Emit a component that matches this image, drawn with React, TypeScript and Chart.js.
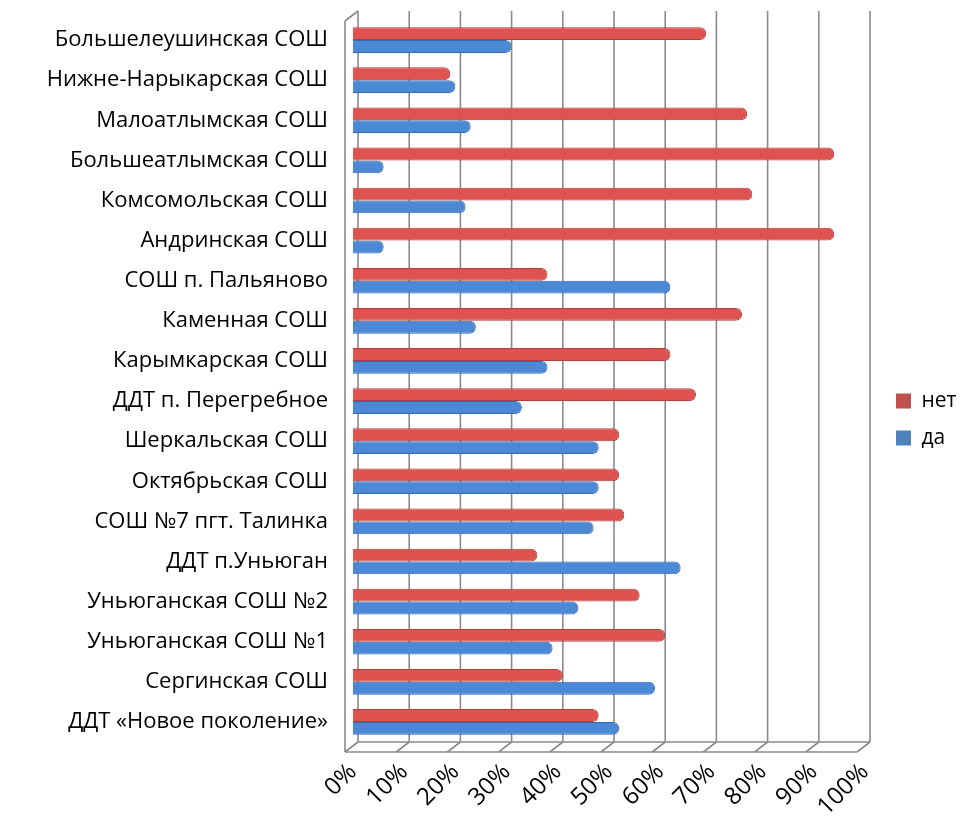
import React, { useEffect, useRef } from "react";
import { Chart, registerables } from "chart.js";

Chart.register(...registerables);

const categories = [
  "Большелеушинская СОШ",
  "Нижне-Нарыкарская СОШ",
  "Малоатлымская СОШ",
  "Большеатлымская СОШ",
  "Комсомольская СОШ",
  "Андринская СОШ",
  "СОШ п. Пальяново",
  "Каменная СОШ",
  "Карымкарская СОШ",
  "ДДТ п. Перегребное",
  "Шеркальская СОШ",
  "Октябрьская СОШ",
  "СОШ №7 пгт. Талинка",
  "ДДТ п.Уньюган",
  "Уньюганская СОШ №2",
  "Уньюганская СОШ №1",
  "Сергинская СОШ",
  "ДДТ «Новое поколение»",
];

const seriesNames = ["нет", "да"];
const netValues = [69, 19, 77, 94, 78, 94, 38, 76, 62, 67, 52, 52, 53, 36, 56, 61, 41, 48];
const daValues = [31, 20, 23, 6, 22, 6, 62, 24, 38, 33, 48, 48, 47, 64, 44, 39, 59, 52];
const xTicks = [0, 10, 20, 30, 40, 50, 60, 70, 80, 90, 100];

const barColors = ["#df524f", "#4b89d7"];
const barBorders = ["#b03e3b", "#356ab0"];
const legendColors = ["#c0504d", "#4f81bd"];
const FONT = "'Open Sans', 'Noto Sans', sans-serif";

const frame3d = {
  id: "frame3d",
  beforeDatasetsDraw(chart: any) {
    const { ctx, chartArea, scales } = chart;
    const x = scales.x;
    const top = chartArea.top;
    const bottom = chartArea.bottom;
    const back = 5;
    const fdx = -13;
    const fdy = 10;
    const wallTop = top - 9;
    const line = (a: number, b: number, c: number, d: number) => {
      ctx.beginPath();
      ctx.moveTo(a, b);
      ctx.lineTo(c, d);
      ctx.stroke();
    };
    ctx.save();
    ctx.strokeStyle = "#8a8a8a";
    ctx.lineWidth = 1.6;
    xTicks.forEach((v) => {
      const px = x.getPixelForValue(v) + back;
      line(px, wallTop, px, bottom);
      line(px, bottom, px + fdx, bottom + fdy);
    });
    const x0 = x.getPixelForValue(xTicks[0]) + back;
    const x1 = x.getPixelForValue(xTicks[xTicks.length - 1]) + back;
    line(x0, bottom, x1, bottom);
    line(x0 + fdx, bottom + fdy, x1 + fdx, bottom + fdy);
    line(x0 + fdx, wallTop + fdy, x0 + fdx, bottom + fdy);
    line(x0 + fdx, wallTop + fdy, x0, wallTop);
    ctx.restore();
  },
};

// Moves the legend box a little away from the plot, as in the reference.
const legendShift = {
  id: "legendShift",
  afterLayout(chart: any) {
    const lg = chart.legend;
    if (lg) {
      lg.left += 15;
      lg.right += 15;
    }
  },
};

export default function App() {
  const ref = useRef<HTMLCanvasElement | null>(null);

  useEffect(() => {
    if (!ref.current) return;
    const chart = new Chart(ref.current, {
      type: "bar",
      data: {
        labels: categories,
        datasets: [
          {
            label: seriesNames[0],
            data: netValues,
            backgroundColor: barColors[0],
            borderColor: barBorders[0],
            borderWidth: 1,
            borderRadius: 6,
            categoryPercentage: 0.64,
            barPercentage: 1,
          },
          {
            label: seriesNames[1],
            data: daValues,
            backgroundColor: barColors[1],
            borderColor: barBorders[1],
            borderWidth: 1,
            borderRadius: 6,
            categoryPercentage: 0.64,
            barPercentage: 1,
          },
        ],
      },
      options: {
        indexAxis: "y",
        responsive: false,
        animation: false,
        layout: { padding: { top: 20, bottom: 0, left: 0, right: 0 } },
        scales: {
          x: {
            min: 0,
            max: 100,
            grid: { display: false },
            border: { display: false },
            ticks: {
              stepSize: 10,
              callback: (v: any) => v + "%",
              minRotation: 45,
              maxRotation: 45,
              padding: 8,
              color: "#000",
              font: { family: FONT, size: 24 },
            },
            afterFit: (s: any) => {
              s.height = 77;
              s.paddingRight = 99;
              s.paddingLeft = 0;
            },
          },
          y: {
            grid: { display: false },
            border: { display: false },
            ticks: {
              padding: 17,
              color: "#000",
              font: { family: FONT, size: 22 },
            },
            afterFit: (s: any) => {
              s.width = 353;
              s.paddingTop = 0;
              s.paddingBottom = 0;
            },
          },
        },
        plugins: {
          legend: {
            position: "right",
            labels: {
              boxWidth: 15,
              boxHeight: 15,
              padding: 16,
              color: "#000",
              font: { family: FONT, size: 21 },
              generateLabels: () =>
                seriesNames.map((n, i) => ({
                  text: n,
                  fillStyle: legendColors[i],
                  strokeStyle: legendColors[i],
                  lineWidth: 0,
                  hidden: false,
                  datasetIndex: i,
                })),
            },
          },
          tooltip: { enabled: false },
        },
      },
      plugins: [frame3d, legendShift],
    } as any);
    return () => chart.destroy();
  }, []);

  return (
    <div style={{ position: "absolute", left: 0, top: 0, width: 964, height: 819, background: "#fff" }}>
      <canvas ref={ref} width={964} height={819} />
    </div>
  );
}
